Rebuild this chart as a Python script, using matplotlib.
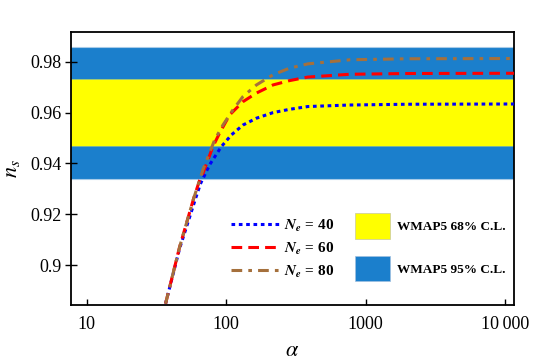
import matplotlib
matplotlib.use("Agg")
import matplotlib.pyplot as plt
from matplotlib.lines import Line2D
from matplotlib.patches import Patch

plt.rcParams['font.family'] = ['Liberation Serif', 'DejaVu Serif']
plt.rcParams['mathtext.fontset'] = 'stix'

# curves
alpha_40 = [36.8, 46.4, 60.4, 65.5, 76.2, 92.4, 109, 132, 165, 217, 285, 386, 768, 2000, 11600]
ns_40 = [0.8848, 0.9065, 0.9262, 0.9320, 0.9395, 0.9466, 0.9512, 0.9551, 0.9578, 0.9600,
         0.9613, 0.9624, 0.9630, 0.9633, 0.9634]
alpha_60 = [36.8, 46.4, 58.5, 64.6, 68.2, 80.4, 89.7, 106, 132, 165, 217, 285, 386, 768, 2000, 11600]
ns_60 = [0.8848, 0.9071, 0.9262, 0.9334, 0.9361, 0.9466, 0.9519, 0.9591, 0.9643, 0.9677,
         0.9709, 0.9726, 0.9740, 0.9751, 0.9754, 0.9755]
alpha_80 = [36.8, 46.4, 58.5, 64.6, 68.2, 82.7, 94.9, 112, 132, 165, 217, 285, 386, 768, 2000, 11600]
ns_80 = [0.8848, 0.9071, 0.9262, 0.9334, 0.9375, 0.9492, 0.9551, 0.9611, 0.9663, 0.9709,
         0.9749, 0.9775, 0.9792, 0.9808, 0.9812, 0.9813]

band68 = (0.9469, 0.9733)
band95 = (0.9338, 0.9859)

xticks = [10, 100, 1000, 10000]
xticklabels = ['10', '100', '1000', '10\u2009000']
yticks = [0.90, 0.92, 0.94, 0.96, 0.98]
yticklabels = ['0.9', '0.92', '0.94', '0.96', '0.98']

blue_band = '#1b7fcc'
yellow = '#ffff00'

fig = plt.figure(figsize=(5.45, 3.62), dpi=100)
ax = fig.add_axes([0.130, 0.157, 0.813, 0.755])

ax.axhspan(*band95, color=blue_band, lw=0, zorder=1)
ax.axhspan(*band68, color=yellow, lw=0, zorder=2)
for v in band95:
    ax.axhline(v, color='#a8cbe8', lw=0.8, zorder=2)
for v in band68:
    ax.axhline(v, color='#8ebf8a', lw=0.6, zorder=2)

ax.plot(alpha_40, ns_40, color='#0000ff', lw=2.2, ls=(0, (1.2, 1.2)), zorder=3)
ax.plot(alpha_60, ns_60, color='#ff0000', lw=2.2, ls=(0, (3.5, 2)), zorder=4)
ax.plot(alpha_80, ns_80, color='#a5703c', lw=2.2, ls=(0, (3.5, 2, 1.2, 2)), zorder=5)

ax.set_xscale('log')
ax.set_xlim(7.7, 11600)
ax.set_ylim(0.8842, 0.9918)
ax.set_xticks(xticks)
ax.set_xticklabels(xticklabels)
ax.xaxis.set_minor_locator(matplotlib.ticker.NullLocator())
ax.set_yticks(yticks)
ax.set_yticklabels(yticklabels)
ax.tick_params(axis='x', direction='in', length=4, width=1, labelsize=13, pad=8)
ax.tick_params(axis='y', direction='inout', length=8, width=1, labelsize=13, pad=3)
for s in ax.spines.values():
    s.set_linewidth(1.3)

ax.set_xlabel(r'$\alpha$', fontsize=16, labelpad=6)
ax.set_ylabel(r'$n_s$', fontsize=16, labelpad=6)

h1 = [Line2D([], [], color='#0000ff', lw=2.2, ls=(0, (1.2, 1.2))),
      Line2D([], [], color='#ff0000', lw=2.2, ls=(0, (3.5, 2))),
      Line2D([], [], color='#a5703c', lw=2.2, ls=(0, (3.5, 2, 1.2, 2)))]
l1 = [r'$\mathbfit{N_e}$ = 40', r'$\mathbfit{N_e}$ = 60', r'$\mathbfit{N_e}$ = 80']
leg1 = ax.legend(h1, l1, loc='upper left', bbox_to_anchor=(0.33, 0.37), frameon=False,
                 prop={'weight': 'bold', 'size': 11}, handlelength=3.2, labelspacing=0.45,
                 handletextpad=0.3)
ax.add_artist(leg1)

h2 = [Patch(facecolor=yellow, edgecolor='#c8c8a0', lw=0.5),
      Patch(facecolor=blue_band, edgecolor='#a0c0e0', lw=0.5)]
l2 = ['WMAP5 68% C.L.', 'WMAP5 95% C.L.']
ax.legend(h2, l2, loc='upper left', bbox_to_anchor=(0.615, 0.38), frameon=False,
          prop={'weight': 'bold', 'size': 9.5}, handlelength=2.65, handleheight=2.6,
          labelspacing=1.3, handletextpad=0.55)

fig.savefig('out.png', dpi=100)
